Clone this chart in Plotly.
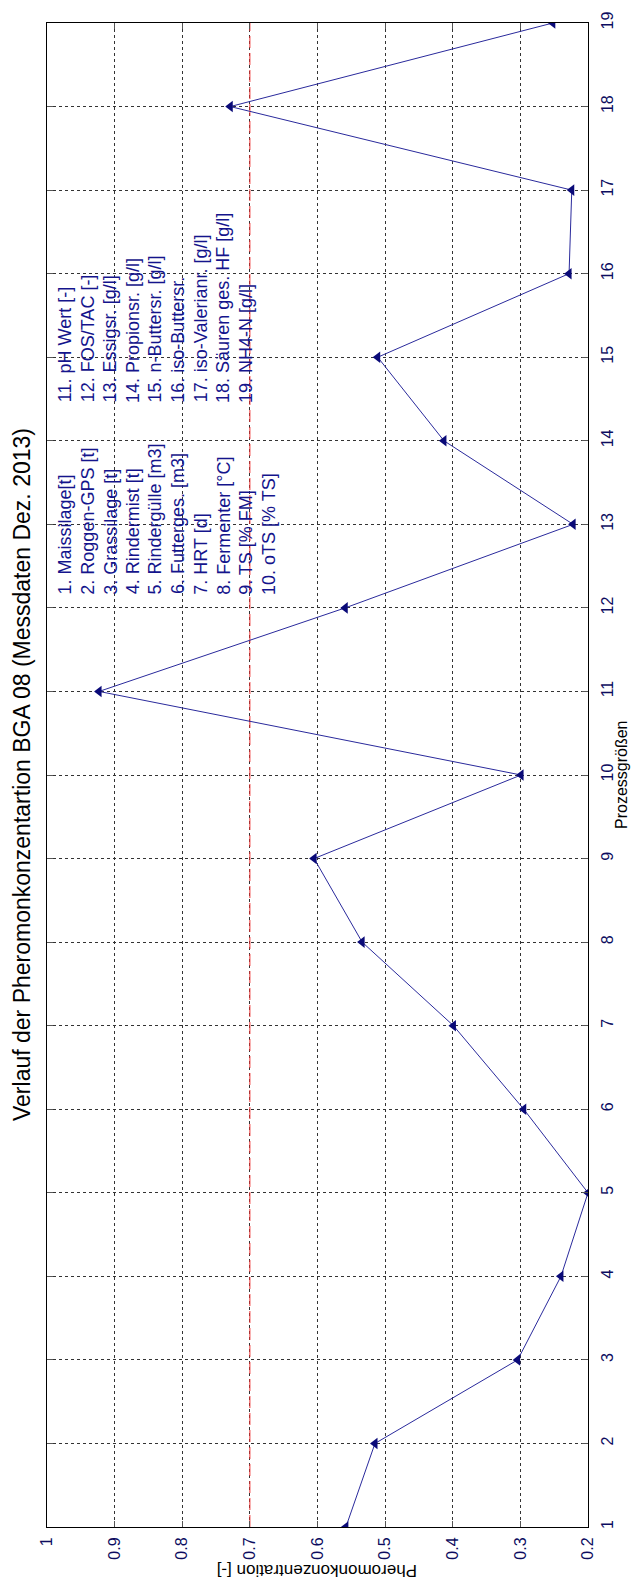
import plotly.graph_objects as go

# ---- data ----
process_idx = list(range(1, 20))
concentration = [0.558, 0.515, 0.304, 0.240, 0.200, 0.295, 0.399, 0.534, 0.605, 0.299,
                 0.923, 0.559, 0.222, 0.413, 0.511, 0.228, 0.224, 0.729, 0.252]
threshold = 0.7
conc_ticks = [1.0, 0.9, 0.8, 0.7, 0.6, 0.5, 0.4, 0.3, 0.2]
conc_ticklabels = ["1", "0.9", "0.8", "0.7", "0.6", "0.5", "0.4", "0.3", "0.2"]
proc_ticklabels = [str(i) for i in process_idx]
legend_col1 = ["1. Maissilage[t]", "2. Roggen-GPS [t]", "3. Grassilage [t]", "4. Rindermist [t]",
               "5. Rindergülle [m3]", "6. Futterges. [m3]", "7. HRT [d]", "8. Fermenter [°C]",
               "9. TS [% FM]", "10. oTS [% TS]"]
legend_col2 = ["11. pH Wert [-]", "12. FOS/TAC [-]", "13. Essigsr. [g/l]", "14. Propionsr. [g/l]",
               "15. n-Buttersr. [g/l]", "16. iso-Buttersr.", "17. iso-Valerianr. [g/l]",
               "18. Säuren ges. HF [g/l]", "19. NH4-N [g/l]"]
title_text = "Verlauf der Pheromonkonzentartion BGA 08 (Messdaten Dez. 2013)"
xlabel_text = "Pheromonkonzentration [-]"
ylabel_text = "Prozessgrößen"

FONT = "Liberation Sans, Arial, sans-serif"
W, H = 635, 1584
ML, MR, MT, MB = 47, 47, 14, 57
pw, ph = W - ML - MR, H - MT - MB

def px_x(x):
    return (x - ML) / pw

def px_y(y):
    return (H - MB - y) / ph

fig = go.Figure()

# threshold line
fig.add_trace(go.Scatter(
    x=[threshold, threshold], y=[process_idx[0], process_idx[-1]],
    mode="lines", line=dict(color="#f03030", width=1, dash="12px,5px"),
    hoverinfo="skip", showlegend=False))

# data line
fig.add_trace(go.Scatter(
    x=concentration, y=process_idx, mode="lines+markers",
    line=dict(color="#2a2a9c", width=1),
    marker=dict(symbol="triangle-left", size=10, color="#0a0a78"),
    showlegend=False))

axis_common = dict(
    showline=True, linecolor="black", linewidth=1, mirror="allticks",
    ticks="inside", ticklen=6, tickcolor="#555555", tickwidth=1,
    showgrid=True, gridcolor="#333333", gridwidth=1, griddash="3px,3px",
    zeroline=False, tickangle=-90,
    tickfont=dict(family=FONT, size=16, color="#0c0c60"),
)

fig.update_xaxes(range=[1.0, 0.2], tickvals=conc_ticks, ticktext=conc_ticklabels,
                 ticklabelstandoff=3, **axis_common)
fig.update_yaxes(range=[1, 19], tickvals=process_idx, ticktext=proc_ticklabels,
                 side="right", ticklabelstandoff=5, **axis_common)

annotations = []
# title (rotated)
annotations.append(dict(text=title_text, xref="paper", yref="paper",
                        x=px_x(22), y=0.5, xanchor="center", yanchor="middle",
                        textangle=-90, showarrow=False,
                        font=dict(family=FONT, size=23, color="black")))
# x label (upside-down)
annotations.append(dict(text=xlabel_text, xref="paper", yref="paper",
                        x=0.5, y=px_y(1571), xanchor="center", yanchor="middle",
                        textangle=180, showarrow=False, borderpad=0,
                        font=dict(family=FONT, size=17, color="black")))
# y label (rotated, right of tick labels)
annotations.append(dict(text=ylabel_text, xref="paper", yref="paper",
                        x=px_x(621), y=0.5, xanchor="center", yanchor="middle",
                        textangle=-90, showarrow=False, borderpad=0,
                        font=dict(family=FONT, size=16, color="black")))
# legend text columns
for i, t in enumerate(legend_col1):
    annotations.append(dict(text=t, xref="paper", yref="paper",
                            x=px_x(65 + 22.6 * i), y=px_y(591),
                            xanchor="center", yanchor="bottom", textangle=-90,
                            showarrow=False,
                            font=dict(family=FONT, size=18, color="#14148c")))
for i, t in enumerate(legend_col2):
    annotations.append(dict(text=t, xref="paper", yref="paper",
                            x=px_x(65 + 22.6 * i), y=px_y(398),
                            xanchor="center", yanchor="bottom", textangle=-90,
                            showarrow=False,
                            font=dict(family=FONT, size=18, color="#14148c")))

fig.update_layout(
    width=W, height=H, margin=dict(l=ML, r=MR, t=MT, b=MB),
    paper_bgcolor="white", plot_bgcolor="white",
    annotations=annotations, showlegend=False,
)

fig.write_html(
    "out.html",
    config={"displayModeBar": False},
    post_script="document.body.style.margin='0';document.body.style.overflow='hidden';"
                "document.documentElement.style.overflow='hidden';",
)
